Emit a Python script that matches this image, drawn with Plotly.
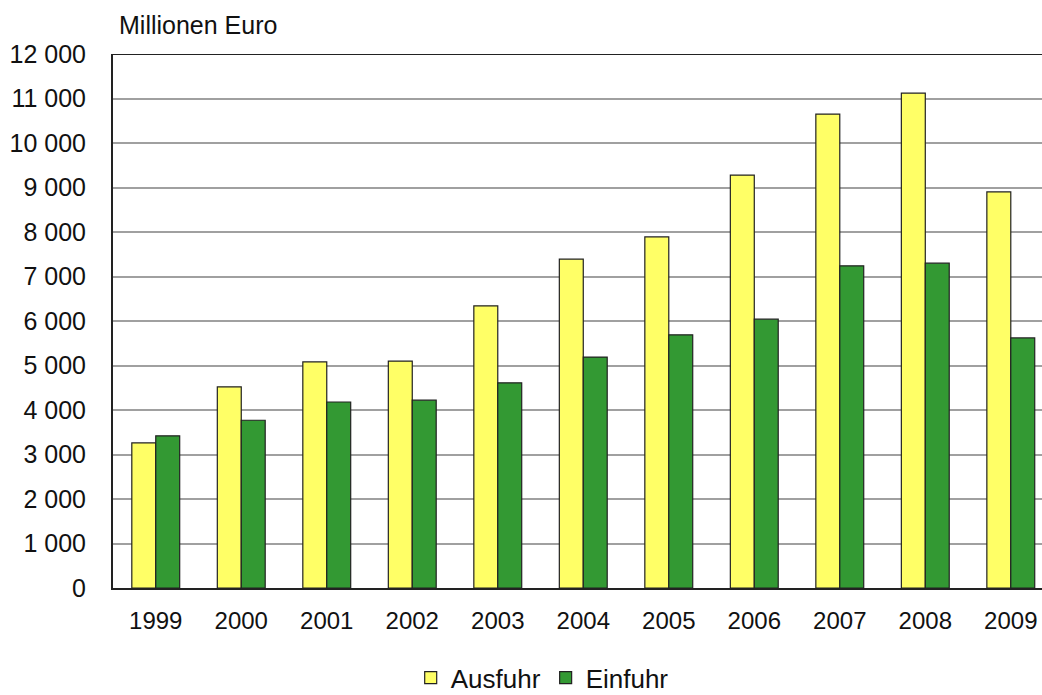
import plotly.graph_objects as go

years = ["1999", "2000", "2001", "2002", "2003", "2004", "2005", "2006", "2007", "2008", "2009"]
ausfuhr = [3260, 4520, 5080, 5100, 6340, 7390, 7890, 9280, 10650, 11120, 8900]
einfuhr = [3420, 3770, 4180, 4220, 4610, 5190, 5690, 6040, 7240, 7300, 5620]
ytick_vals = list(range(0, 12001, 1000))
ytick_text = [f"{v:,}".replace(",", " ") for v in ytick_vals]

fig = go.Figure()
fig.add_trace(go.Bar(name="Ausfuhr", x=years, y=ausfuhr,
                     marker=dict(color="#FFFF66", line=dict(color="#222222", width=1.2))))
fig.add_trace(go.Bar(name="Einfuhr", x=years, y=einfuhr,
                     marker=dict(color="#339933", line=dict(color="#222222", width=1.2))))

fig.update_layout(
    width=1042, height=695,
    margin=dict(l=113, r=0, t=54, b=107, autoexpand=False),
    paper_bgcolor="white", plot_bgcolor="white",
    font=dict(family="Liberation Sans, Arial, sans-serif", size=24, color="#111111"),
    barmode="group", bargap=0.44, bargroupgap=0,
    showlegend=True,
    legend=dict(orientation="h", x=0.462, xanchor="center", y=-0.168, yanchor="middle",
                font=dict(size=26), traceorder="normal", itemwidth=30),
    xaxis=dict(type="category", range=[-0.5, 10.365], showgrid=False, automargin=False,
               showline=True, linecolor="#222222", linewidth=2, ticks="",
               tickfont=dict(size=24), ticklabelstandoff=10),
    yaxis=dict(range=[0, 12000], tickvals=ytick_vals, ticktext=ytick_text, automargin=False,
               showgrid=True, gridcolor="#A0A0A0", gridwidth=1.5,
               showline=True, linecolor="#222222", linewidth=2, ticks="",
               tickfont=dict(size=25), ticklabelstandoff=20, zeroline=False),
    annotations=[dict(text="Millionen Euro", xref="paper", yref="paper", x=0.004, y=1.025,
                      xanchor="left", yanchor="bottom", showarrow=False,
                      font=dict(size=25))],
    shapes=[dict(type="line", xref="paper", yref="y", x0=0, x1=1, y0=12000, y1=12000,
                 line=dict(color="#222222", width=2))],
)

fig.write_html("out.html", config={"displayModeBar": False},
               post_script="document.body.style.margin='0';document.body.style.overflow='hidden';")
